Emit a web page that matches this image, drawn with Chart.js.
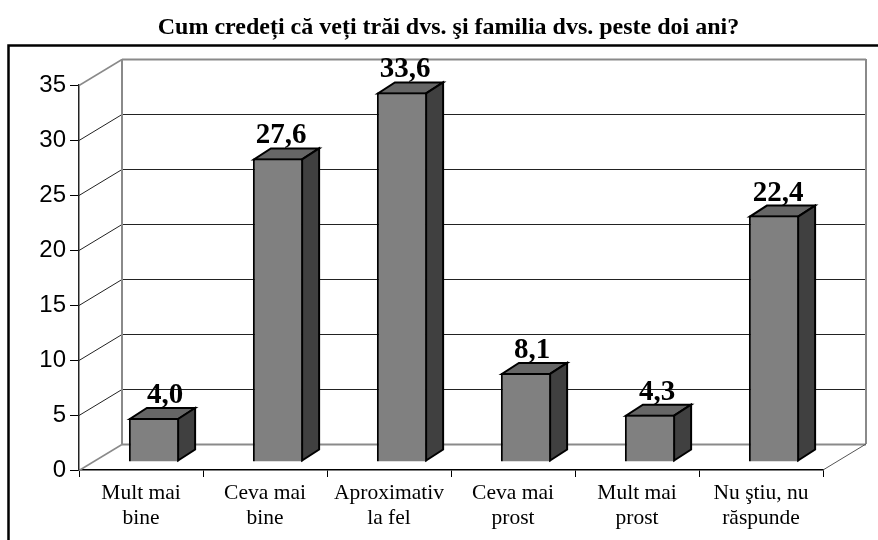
<!DOCTYPE html>
<html><head><meta charset="utf-8">
<style>html,body{margin:0;padding:0;background:#fff}canvas{display:block}</style>
<script src="https://cdn.jsdelivr.net/npm/chart.js@4"></script>
</head><body>
<canvas id="c" width="878" height="540"></canvas>
<script>
const categories = [["Mult mai","bine"],["Ceva mai","bine"],["Aproximativ","la fel"],["Ceva mai","prost"],["Mult mai","prost"],["Nu ştiu, nu","răspunde"]];
const values = [4.0,27.6,33.6,8.1,4.3,22.4];
const yTicks = [0,5,10,15,20,25,30,35];
const titleText = "Cum credeți că veți trăi dvs. şi familia dvs. peste doi ani?";
const labelNudge = [11,3,3,6,7,4];

const wall = {dx:43, dy:-26};
const barShift = {dx:13, dy:-8};
const barDepth = {dx:17, dy:-11};

function seg(ctx,pts,color,w){
  ctx.beginPath();ctx.strokeStyle=color;ctx.lineWidth=w;
  pts.forEach((p,i)=>i?ctx.lineTo(p[0],p[1]):ctx.moveTo(p[0],p[1]));
  ctx.stroke();
}
function quad(ctx,pts,fill){
  ctx.beginPath();pts.forEach((p,i)=>i?ctx.lineTo(p[0],p[1]):ctx.moveTo(p[0],p[1]));
  ctx.closePath();ctx.fillStyle=fill;ctx.fill();
  ctx.strokeStyle='#000';ctx.lineWidth=2;ctx.lineJoin='miter';ctx.stroke();
}
const chart3d = {
  id:'chart3d',
  beforeDatasetsDraw(chart){
    const ctx=chart.ctx,{x,y}=chart.scales,L=x.left,R=x.right;
    ctx.save();
    yTicks.forEach(t=>{
      const py=y.getPixelForValue(t)+0.5;
      const edge=(t===0||t===yTicks[yTicks.length-1]);
      const c=edge?'#8a8a8a':'#222';
      const w=edge?2:1;
      seg(ctx,[[L,py],[L+wall.dx,py+wall.dy]],edge?'#8a8a8a':'#222',edge?1.5:1);
      seg(ctx,[[L+wall.dx,py+wall.dy],[R+wall.dx,py+wall.dy]],c,w);
    });
    const top=y.getPixelForValue(yTicks[yTicks.length-1])+wall.dy, bot=y.getPixelForValue(0)+wall.dy;
    seg(ctx,[[L+wall.dx,top],[L+wall.dx,bot]],'#8a8a8a',2);
    seg(ctx,[[R+wall.dx,top],[R+wall.dx,bot]],'#8a8a8a',2);
    seg(ctx,[[R,y.getPixelForValue(0)],[R+wall.dx,bot]],'#555',1);
    chart.getDatasetMeta(0).data.forEach(b=>{
      const l=b.x-b.width/2+barShift.dx+1, r=b.x+b.width/2+barShift.dx-1,
            t=b.y+barShift.dy+1, g=b.base+barShift.dy-1;
      quad(ctx,[[l,t],[r,t],[r+barDepth.dx,t+barDepth.dy],[l+barDepth.dx,t+barDepth.dy]],'#666666');
      quad(ctx,[[r,t],[r+barDepth.dx,t+barDepth.dy],[r+barDepth.dx,g+barDepth.dy],[r,g]],'#404040');
    });
    ctx.restore();
    ctx.save();
    ctx.translate(barShift.dx,barShift.dy);
  },
  afterDatasetsDraw(chart){
    const ctx=chart.ctx;
    ctx.restore();
    ctx.save();
    ctx.font='bold 29px "Liberation Serif"';
    ctx.fillStyle='#000';ctx.textAlign='center';ctx.textBaseline='alphabetic';
    chart.getDatasetMeta(0).data.forEach((b,i)=>{
      ctx.fillText(values[i].toFixed(1).replace('.',','),b.x+barShift.dx+labelNudge[i],b.y+barShift.dy-15);
    });
    ctx.restore();
  },
  afterDraw(chart){
    const ctx=chart.ctx;
    ctx.save();
    seg(ctx,[[8.5,540],[8.5,45.5],[878,45.5]],'#000',2.5);
    ctx.restore();
  }
};
new Chart(document.getElementById('c'),{
  type:'bar',
  data:{labels:categories,datasets:[{data:values,backgroundColor:'#808080',borderColor:'#000',borderWidth:2,
    categoryPercentage:1,barPercentage:0.405}]},
  plugins:[chart3d],
  options:{
    responsive:false,animation:false,
    layout:{padding:{left:19,right:0,top:0,bottom:0}},
    plugins:{legend:{display:false},tooltip:{enabled:false},
      title:{display:true,text:titleText,color:'#000',
        font:{family:'"Liberation Serif"',size:24,weight:'bold',lineHeight:1.2},
        padding:{top:13,bottom:43.2}}},
    scales:{
      x:{grid:{drawOnChartArea:false,drawTicks:true,tickLength:7,tickColor:'#000',offset:true},
        border:{display:true,color:'#000',width:1.5},
        afterFit(s){s.height=70;},
        ticks:{color:'#000',maxRotation:0,minRotation:0,autoSkip:false,padding:3.5,
          font:{family:'"Liberation Serif"',size:21.5,lineHeight:'25px'}}},
      y:{min:0,max:35,
        afterFit(s){s.width=60;},
        afterBuildTicks(s){s.ticks=yTicks.map(v=>({value:v}));},
        grid:{drawOnChartArea:false,drawTicks:true,tickLength:9,tickColor:'#000'},
        border:{display:true,color:'#222',width:1.5},
        ticks:{color:'#000',padding:4,font:{family:'"Liberation Sans"',size:24}}},
      yRight:{position:'right',display:true,min:0,max:35,
        afterFit(s){s.width=55;},
        grid:{display:false},border:{display:false},ticks:{display:false}}
    }
  }
});
</script>
</body></html>
